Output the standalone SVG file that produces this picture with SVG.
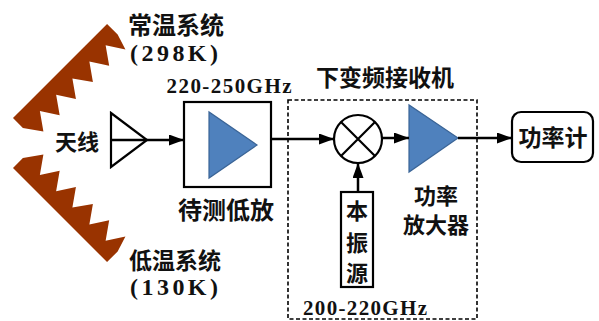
<svg xmlns="http://www.w3.org/2000/svg" width="599" height="321" viewBox="0 0 599 321">
  <style>
    .cn { font-family: "Noto Sans CJK SC", "Noto Sans", sans-serif; font-weight: bold; fill: #111; }
    .num { font-family: "Liberation Serif", "DejaVu Serif", serif; font-weight: bold; fill: #111; }
    .box { fill: #fff; stroke: #000; stroke-width: 2.2; }
    .amp { fill: #4f81bd; stroke: #3a6496; stroke-width: 1.2; }
    .wire { fill: none; stroke: #000; stroke-width: 2.5; }
    .absorber { fill: #993300; }
  </style>
  <defs>
    <marker id="arrow" markerUnits="userSpaceOnUse" markerWidth="15" markerHeight="11" refX="15" refY="5.5" orient="auto">
      <path d="M0,0 L15,5.5 L0,11 z" fill="#000"/>
    </marker>
    <!-- serrated absorber load, drawn along the local x axis, teeth toward +y -->
    <polygon id="teeth" points="0,0 0,14 12,31 24,14 35,31 47,14 58,31 70,14 82,31 94,14 105,31 117,14 128,31 133,15 133,0"/>
  </defs>

  <rect width="599" height="321" fill="#fff"/>

  <!-- room-temperature load -->
  <g id="load-hot">
    <use href="#teeth" class="absorber" transform="translate(13,118) rotate(-45)"/>
    <text class="cn" x="176" y="34" font-size="24" text-anchor="middle">常温系统</text>
    <text class="num" x="174" y="61" font-size="24" text-anchor="middle" textLength="88" lengthAdjust="spacing">(298K)</text>
  </g>

  <!-- cold load -->
  <g id="load-cold">
    <use href="#teeth" class="absorber" transform="translate(13,168) rotate(45) scale(1,-1)"/>
    <text class="cn" x="175" y="269" font-size="23" text-anchor="middle">低温系统</text>
    <text class="num" x="174" y="295" font-size="24" text-anchor="middle" textLength="88" lengthAdjust="spacing">(130K)</text>
  </g>

  <!-- antenna -->
  <g id="antenna">
    <polygon points="111,113 147,140 111,167" fill="none" stroke="#000" stroke-width="2.2"/>
    <text class="cn" x="77" y="150" font-size="22" text-anchor="middle">天线</text>
  </g>

  <!-- low-noise amplifier under test -->
  <g id="lna">
    <text class="num" x="229" y="93" font-size="21" text-anchor="middle" textLength="125" lengthAdjust="spacing">220-250GHz</text>
    <rect class="box" x="184" y="102" width="87" height="85"/>
    <polygon class="amp" points="209,112 209,178 257,145"/>
    <text class="cn" x="226" y="219" font-size="24" text-anchor="middle">待测低放</text>
  </g>

  <!-- down-conversion receiver frame -->
  <g id="receiver">
    <rect x="288" y="100" width="189" height="219" fill="none" stroke="#000" stroke-width="1.6" stroke-dasharray="4,2.5"/>
    <text class="cn" x="385" y="86" font-size="23" text-anchor="middle">下变频接收机</text>
    <text class="num" x="365" y="315" font-size="21" text-anchor="middle" textLength="124" lengthAdjust="spacing">200-220GHz</text>
  </g>

  <!-- mixer -->
  <g id="mixer">
    <circle cx="358" cy="139" r="24" fill="#fff" stroke="#000" stroke-width="2.2"/>
    <path d="M341,122 L375,156 M375,122 L341,156" stroke="#000" stroke-width="2.2"/>
  </g>

  <!-- local oscillator -->
  <g id="lo">
    <rect class="box" x="341" y="192" width="32" height="95"/>
    <text class="cn" x="357" y="219" font-size="22" text-anchor="middle">本</text>
    <text class="cn" x="357" y="251" font-size="22" text-anchor="middle">振</text>
    <text class="cn" x="357" y="281" font-size="22" text-anchor="middle">源</text>
  </g>

  <!-- power amplifier -->
  <g id="pa">
    <polygon class="amp" points="409,105 409,172 458,138"/>
    <text class="cn" x="436" y="204" font-size="22" text-anchor="middle">功率</text>
    <text class="cn" x="436" y="233" font-size="22" text-anchor="middle">放大器</text>
  </g>

  <!-- power meter -->
  <g id="meter">
    <rect class="box" x="512" y="112" width="81" height="50" rx="9" ry="9"/>
    <text class="cn" x="553" y="146" font-size="23" text-anchor="middle">功率计</text>
  </g>

  <!-- signal connections -->
  <g id="connectors">
    <line class="wire" x1="111" y1="140" x2="184" y2="140" marker-end="url(#arrow)"/>
    <line class="wire" x1="271" y1="139" x2="334" y2="139" marker-end="url(#arrow)"/>
    <line class="wire" x1="382" y1="138" x2="409" y2="138" marker-end="url(#arrow)"/>
    <line class="wire" x1="458" y1="138" x2="512" y2="138" marker-end="url(#arrow)"/>
    <line class="wire" x1="358" y1="192" x2="358" y2="163" marker-end="url(#arrow)"/>
  </g>
</svg>
